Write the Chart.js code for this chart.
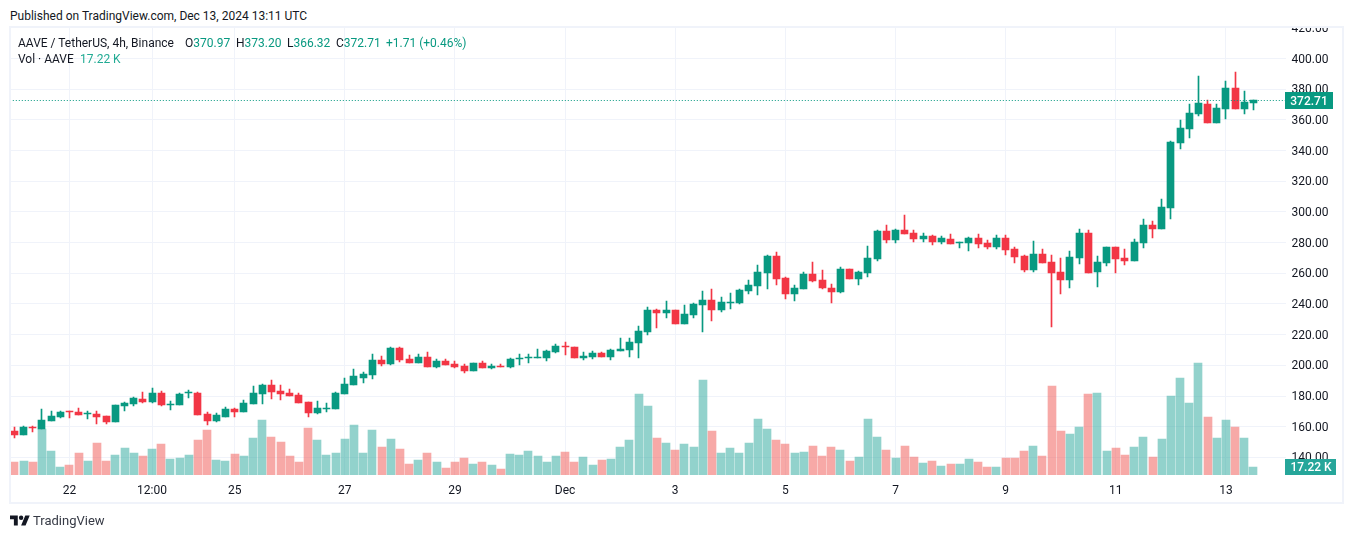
<!DOCTYPE html>
<html><head><meta charset="utf-8">
<script src="https://cdn.jsdelivr.net/npm/chart.js@4"></script>
<style>
html,body{margin:0;padding:0;background:#fff;width:1352px;height:538px;overflow:hidden;font-family:Roboto,sans-serif;color:#131722}
#wrap{position:relative;width:1352px;height:538px}
canvas{position:absolute;left:0;top:0}
.t{position:absolute;white-space:nowrap;font-size:12px;line-height:16px;z-index:5}
.t b{font-weight:400;color:#089981}
#top{position:absolute;left:0;top:0;width:1352px;height:26px;background:#fff;z-index:3}
#frame{position:absolute;left:9px;top:26px;width:1331px;height:474px;border:2px solid #f0f3fa;z-index:2;pointer-events:none}
</style></head><body>
<div id="wrap">
<canvas id="c" width="1352" height="538"></canvas>
<div id="top"></div><div id="frame"></div>
<div class="t" style="left:10px;top:8px">Published on TradingView.com, Dec 13, 2024 13:11 UTC</div>
<div class="t" style="left:18px;top:35px">AAVE / TetherUS, 4h, Binance</div>
<div class="t" style="left:185px;top:35px">O<b>370.97</b></div>
<div class="t" style="left:236px;top:35px">H<b>373.20</b></div>
<div class="t" style="left:287px;top:35px">L<b>366.32</b></div>
<div class="t" style="left:336px;top:35px">C<b>372.71</b></div>
<div class="t" style="left:386px;top:35px"><b>+1.71 (+0.46%)</b></div>
<div class="t" style="left:18px;top:51px">Vol · AAVE</div>
<div class="t" style="left:80px;top:51px;color:#22ab94">17.22 K</div>
<svg style="position:absolute;left:10px;top:513px" width="20" height="16" viewBox="0 0 36 28"><path fill="#131722" d="M14 22H7V11H0V4h14v18zM28 22h-8l7.5-18h8L28 22z"/><circle fill="#131722" cx="20" cy="8" r="4"/></svg>
<div class="t" style="left:33px;top:513px;font-size:13px;color:#363a45">TradingView</div>
</div>
<script>
const opens=[157.2,154.6,160.1,158.5,163.7,166.3,170.3,169.6,168.1,168.3,167,163.1,173.5,174.8,178.1,176.1,182,174,174.2,181.8,182,168.3,163.5,166.3,171.6,169.6,174.8,181.3,187.2,183.3,182,180.7,176.1,169,171.8,
171.6,181.3,187.2,191.8,193.7,203.5,200.9,211.3,204.2,201.5,205.5,198.9,202.9,200.9,199.6,196.3,201.5,198.3,199.6,198.9,204.2,204.8,204.8,204.8,208.7,212.6,212,204.8,205.5,208.1,205.5,209.4,210,214.6,221.8,236.1,
234.1,236.1,227,232.8,239.4,242.6,236.1,240.9,240.7,248.5,251.7,260.2,271.3,257,246.5,249.8,259.6,255.6,250.4,247.8,262.8,256.3,260.2,269.3,287.6,281.7,288.2,286.3,282.4,284.3,280.4,282.4,280,279.8,283,279.8,277.2,
283,275.9,271.3,262.2,272.6,267.4,260.9,255.6,270,286.3,260.9,266.7,277.2,270,268,279.8,291.5,288.9,302.6,345,354.1,363.9,370.4,358,367.1,380.8,367.1,370.97];
const closes=[154.6,159.8,159.4,164.4,167,169.6,169.6,167.7,168.7,166.3,163.1,174.2,175.5,178.7,176.1,182,174.2,174.4,181.3,182.2,167.7,163.7,167.7,171.6,169.6,175.5,182,187.2,182.6,181.3,180,175.5,169,172.2,172.2,
182,187.9,193.1,194.4,203.5,200.9,211.3,203.5,201.5,205.5,198.9,202.9,200.3,198.9,196.3,201.5,198.3,199.6,198.9,204.2,204.8,205.5,205.5,209.4,212.6,212,204.8,206.1,208.1,205.5,210,210.7,215.2,222.4,236.1,234.2,
236.1,227,233.5,240,242.6,236.1,241.3,241.3,249.1,252.4,260.9,271.3,256.3,246.5,250.4,259.6,255,250.4,247.8,262.8,256.3,260.9,270,287.6,281.7,288.2,285.6,282.4,284.3,280.4,283,279.1,280.4,283,279.1,277.2,283,
275.2,270.6,262.2,272.6,266.7,260.2,255.6,270.6,286.3,260.2,267.4,277.2,269.4,268,280.4,291.5,288.9,303.2,345.6,354.7,364.5,371,358,367.8,380.8,367.1,371.7,372.71];
const highs=[159.8,160.3,160.5,171.6,170.3,170.3,170.3,172.2,170,170.3,167,174.2,176.1,179.4,182.6,185.2,183.3,176.8,182,184,182.6,169.6,169,172.9,172.2,177.4,186.6,187.9,190.5,187.2,184.6,182,176.1,176.8,175.5,
182.7,191.8,197.6,195.7,207.4,206.1,212,212,206.8,207.4,208.7,204.2,204.2,202.9,200.9,201.5,202.9,200.9,200.9,204.8,207.4,207.4,210.7,210,213.9,215.2,212,208.7,209.4,208.7,210.7,217.8,217.8,225.7,238.1,236.8,
242,236.1,239.4,240.6,248.5,249.8,244.6,247.2,249.8,255.6,265.4,272,273.9,257.6,252.4,260.9,267.4,262.2,253,264.1,262.8,261.5,277.8,288.2,291.5,288.9,298,288.2,286.3,285,284.3,285.6,280.4,283.7,285.6,281.7,285,
285,277.2,272,281.1,275.9,272,270,274.6,288.9,288.2,271.3,277.2,277.2,275.9,282.4,295.4,294.1,308.5,346.3,360,370.4,388.6,373,370.4,385.4,391.2,378.9,373.2];
const lows=[152.9,154.6,156.8,158.5,163.7,165.7,165.7,167.7,165.3,161.8,161.8,163.1,170.3,173.5,175.5,175.5,173.5,170.9,174.2,178.7,167.7,161.1,163.1,166.3,166.3,169.6,174.8,174.8,178.1,177.4,180,175.5,166.3,168.3,169.6,
171.6,181.3,187.2,188.5,191.1,199.6,200.2,202.2,201.5,201.5,198.9,198.3,200.3,198.3,195,196.3,198.3,197.7,198.9,198.3,200.2,201.5,204.8,202.9,208.1,206.8,204.8,203.5,204.2,205.5,203.5,209.4,205.5,204.8,219.8,224.4,
230.9,227,227,230.9,221.8,228.9,234.8,236.7,240,246.5,245.9,249.8,252.4,243.3,242,249.8,254.3,249.8,240.7,247.2,256.3,252.4,257.6,268,279.8,279.8,285.6,280.4,280.4,278.5,279.1,279.1,276.5,274.6,276.5,275.9,275.9,
272,266.7,260.9,260.9,266.7,225,246.5,250.4,266.1,260.2,251.1,264.8,260.2,265.4,268,276.5,283,288.9,295.4,341.1,348.2,362.6,358,358,360.6,367.1,363.9,366.32];
const volumes=[28,30.1,28,99,51.7,17.2,21.5,47.4,30.1,68.9,30.1,43.1,58.1,47.4,40.9,56,66.7,34.4,36.6,43.1,75.3,96.9,32.3,30.1,45.2,40.9,79.6,118.4,81.8,71,40.9,28,101.2,75.3,43.1,
47.4,77.5,107.6,47.4,96.9,60.3,77.5,56,23.7,32.3,47.4,28,15.1,28,36.6,23.7,28,21.5,12.9,45.2,43.1,51.7,40.9,28,40.9,49.5,28,38.7,21.5,32.3,34.4,60.3,75.3,174.4,148.5,79.6,
68.9,53.8,66.7,60.3,204.5,94.7,47.4,58.1,47.4,68.9,120.5,99,75.3,66.7,47.4,49.5,62.4,40.9,60.3,53.8,30.1,38.7,120.5,81.8,53.8,36.6,62.4,38.7,25.8,30.1,19.4,23.7,23.7,34.4,28,17.2,17.2,
36.6,36.6,51.7,62.4,40.9,191.6,94.7,88.3,103.3,174.4,176.5,51.7,58.1,43.1,60.3,81.8,38.7,77.5,170,208.8,155,241.1,124.8,79.6,118.4,103.3,79.6,17.22];
const months=[['Nov',21,30],['Dec',1,14]];
const categories=[];
for(const [m,a,b] of months)for(let d=a;d<=b;d++)for(const h of ['00:00','04:00','08:00','12:00','16:00','20:00'])categories.push(m+' '+d+' '+h);
categories.length=139;
const tickLabels={'Nov 22 00:00':'22','Nov 23 12:00':'12:00','Nov 25 00:00':'25','Nov 27 00:00':'27','Nov 29 00:00':'29','Dec 1 00:00':'Dec','Dec 3 00:00':'3','Dec 5 00:00':'5','Dec 7 00:00':'7','Dec 9 00:00':'9','Dec 11 00:00':'11','Dec 13 00:00':'13'};
const priceTicks=[140,160,180,200,220,240,260,280,300,320,340,360,380,400,420];
const UP='#089981',DOWN='#f23645',VUP='rgba(38,166,154,.5)',VDOWN='rgba(239,83,80,.5)';
const FONT='Roboto,sans-serif';
const isUp=i=>closes[i]>=opens[i];
const bodyData=opens.map((o,i)=>[Math.min(o,closes[i]),Math.max(o,closes[i])]);
const wickData=lows.map((l,i)=>[l,highs[i]]);
const candleColor=c=>isUp(c.dataIndex)?UP:DOWN;
const volColor=c=>isUp(c.dataIndex)?VUP:VDOWN;
const snap={id:'snap',beforeDatasetDraw(ch,a){
  const vol=a.meta.yAxisID==='yv';
  for(const el of a.meta.data){
    el.x=vol?Math.round(el.x):Math.floor(el.x)+.5;
    el.y=Math.round(el.y);el.base=Math.round(el.base);
    if(el.y===el.base)el.y=el.base-1;
  }
}};
const marks={id:'marks',afterDraw(ch){
  const c=ch.ctx,y=ch.scales.y,yv=ch.scales.yv,A=ch.chartArea;
  const last=closes[closes.length-1],lastV=volumes[volumes.length-1];
  const py=Math.round(y.getPixelForValue(last));
  c.save();
  c.strokeStyle=UP;c.lineWidth=1;c.setLineDash([1,2]);
  c.beginPath();c.moveTo(A.left,py+.5);c.lineTo(A.right,py+.5);c.stroke();c.setLineDash([]);
  c.font='500 12px '+FONT;c.textAlign='center';c.textBaseline='middle';
  c.fillStyle=UP;c.fillRect(1285,py-8,48,17);
  c.fillStyle='#fff';c.fillText(last.toFixed(2),1309,py+2);
  const vb=Math.round(yv.getPixelForValue(0));
  c.fillStyle='#26a69a';c.fillRect(1285,vb-16,51,16);
  c.fillStyle='#fff';c.fillText(lastV.toFixed(2)+' K',1311,vb-7);
  c.restore();
}};
new Chart(document.getElementById('c'),{
  type:'bar',
  data:{labels:categories,datasets:[
    {label:'Body',data:bodyData,yAxisID:'y',backgroundColor:candleColor,barThickness:7,grouped:false,order:1},
    {label:'Wick',data:wickData,yAxisID:'y',backgroundColor:candleColor,barThickness:1,grouped:false,order:2},
    {label:'Vol',data:volumes,yAxisID:'yv',backgroundColor:volColor,barThickness:8,grouped:false,order:3}
  ]},
  options:{
    responsive:false,animation:false,devicePixelRatio:1,
    layout:{autoPadding:false,padding:{left:9.8,right:10,top:27,bottom:36}},
    plugins:{legend:{display:false},tooltip:{enabled:false},title:{display:false}},
    scales:{
      x:{type:'category',offset:true,
        grid:{offset:false,color:'#f0f3fa',drawTicks:false},border:{display:false},
        afterBuildTicks(a){a.ticks=a.ticks.filter(t=>categories[t.value] in tickLabels)},
        afterFit(a){a.height=27},
        ticks:{autoSkip:false,maxRotation:0,padding:9,color:'#131722',font:{family:FONT,size:12},callback:v=>tickLabels[categories[v]]}},
      y:{type:'linear',position:'right',min:128.5,max:420.6,
        grid:{color:'#f0f3fa',drawTicks:false},border:{display:false},
        afterBuildTicks(a){a.ticks=priceTicks.map(v=>({value:v}))},
        afterFit(a){a.width=56.4},
        afterUpdate(a){if(a._shifted)return;a._shifted=true;const f=a._computeLabelItems.bind(a);a._computeLabelItems=r=>f(r).map(i=>{i.options.translation[1]+=1;return i})},
        ticks:{padding:6,color:'#131722',font:{family:FONT,size:12},callback:v=>v.toFixed(2)}},
      yv:{type:'linear',display:false,min:0,max:964,grid:{display:false}}
    }
  },
  plugins:[snap,marks]
});
</script></body></html>
